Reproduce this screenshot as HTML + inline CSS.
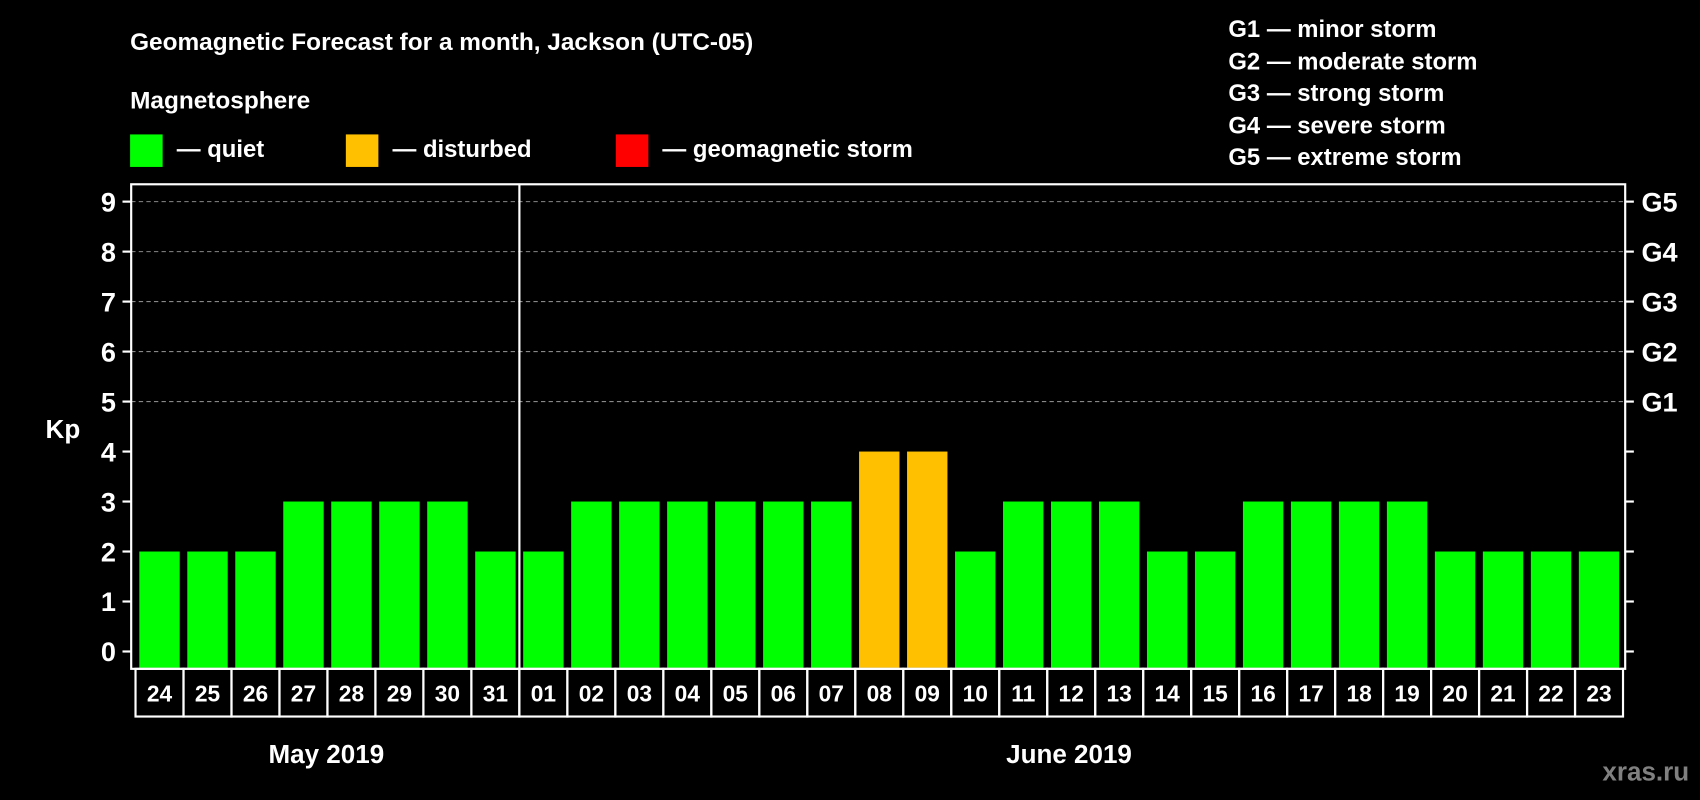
<!DOCTYPE html>
<html><head><meta charset="utf-8"><style>html,body{margin:0;padding:0;background:#000;width:1700px;height:800px;overflow:hidden}svg{display:block}text{font-family:"Liberation Sans",Arial,sans-serif;font-weight:bold;fill:#fff}</style></head>
<body>
<svg id="chart" width="1700" height="800" viewBox="0 0 1568 738" preserveAspectRatio="none" xmlns="http://www.w3.org/2000/svg">
<rect width="1568" height="738" fill="#000"/>
<text x="120" y="46" font-size="22.5">Geomagnetic Forecast for a month, Jackson (UTC-05)</text>
<text x="120" y="100" font-size="22.5">Magnetosphere</text>
<g><rect x="120" y="124" width="30" height="30" fill="#00ff00"/><text x="163" y="145" font-size="22">— quiet</text></g>
<g><rect x="319" y="124" width="30" height="30" fill="#ffc000"/><text x="362" y="145" font-size="22">— disturbed</text></g>
<g><rect x="568" y="124" width="30" height="30" fill="#ff0000"/><text x="611" y="145" font-size="22">— geomagnetic storm</text></g>
<g font-size="22">
<text x="1133" y="34">G1 — minor storm</text>
<text x="1133" y="64">G2 — moderate storm</text>
<text x="1133" y="93">G3 — strong storm</text>
<text x="1133" y="123">G4 — severe storm</text>
<text x="1133" y="152">G5 — extreme storm</text>
</g>
<text x="58" y="404" font-size="24" text-anchor="middle">Kp</text>
<g id="grid"></g><g id="bars"></g><g id="axes"></g>
<text x="301" y="704" font-size="24" text-anchor="middle">May 2019</text>
<text x="986" y="704" font-size="24" text-anchor="middle">June 2019</text>
<text x="1558" y="720" font-size="24" text-anchor="end" style="fill:#808080">xras.ru</text>
</svg>
<script>
const days = ["24","25","26","27","28","29","30","31","01","02","03","04","05","06","07","08","09","10","11","12","13","14","15","16","17","18","19","20","21","22","23"];
const kpValues = [2,2,2,3,3,3,3,2,2,3,3,3,3,3,3,4,4,2,3,3,3,2,2,3,3,3,3,2,2,2,2];
const yTicks = [0,1,2,3,4,5,6,7,8,9];
const gLabels = ["G1","G2","G3","G4","G5"];
const gLevels = [5,6,7,8,9];
const monthBreakIndex = 8;

const NS="http://www.w3.org/2000/svg";
const L=121,R=1499,T=170,B=617,X0=125,X1=1497;
const y0=601,y9=186;
function yScale(v){return y0-(y0-y9)*v/9;}
const step=(X1-X0)/days.length;
function xScale(i){return X0+i*step;}
function mk(tag,attrs,parent){const e=document.createElementNS(NS,tag);for(const k in attrs)e.setAttribute(k,attrs[k]);parent.appendChild(e);return e;}
const grid=document.getElementById('grid'),bars=document.getElementById('bars'),axes=document.getElementById('axes');
yTicks.forEach(v=>{
  if(v>=5){const g=mk('line',{x1:L,x2:R,y1:yScale(v),y2:yScale(v),stroke:'#888','stroke-width':1,'stroke-dasharray':'4,3'},grid);
  
  }
  const t=mk('line',{x1:L-8,x2:L,y1:yScale(v),y2:yScale(v),stroke:'#fff','stroke-width':2},axes);
  
  
  const t2=mk('line',{x1:R,x2:R+8,y1:yScale(v),y2:yScale(v),stroke:'#fff','stroke-width':2},axes);
  
  
  const lb=mk('text',{x:107,y:yScale(v)+9,'font-size':25,'text-anchor':'end'},axes);lb.textContent=v;
  
  
});
gLabels.forEach((g,i)=>{
  const t=mk('text',{x:1514,y:yScale(gLevels[i])+9,'font-size':25},axes);t.textContent=g;
  
  
});
days.forEach((d,i)=>{
  const v=kpValues[i];
  const col=v>=5?'#ff0000':(v>=4?'#ffc000':'#00ff00');
  const bx=xScale(i)+3.5,bw=step-7;
  const r=mk('rect',{x:bx,y:yScale(v),width:bw,height:B-1-yScale(v),fill:col},bars);
  
  
  const c=mk('rect',{x:xScale(i),y:B,width:step,height:44,fill:'none',stroke:'#fff','stroke-width':2},axes);
  
  
  const t=mk('text',{x:xScale(i)+step/2,y:B+30,'font-size':21,'text-anchor':'middle'},axes);t.textContent=d;
  
  
});
const fr=mk('rect',{x:L,y:T,width:R-L,height:B-T,fill:'none',stroke:'#fff','stroke-width':2},axes);


const dv=mk('line',{x1:xScale(monthBreakIndex),x2:xScale(monthBreakIndex),y1:T,y2:B+44,stroke:'#fff','stroke-width':2},axes);


</script>
</body></html>
